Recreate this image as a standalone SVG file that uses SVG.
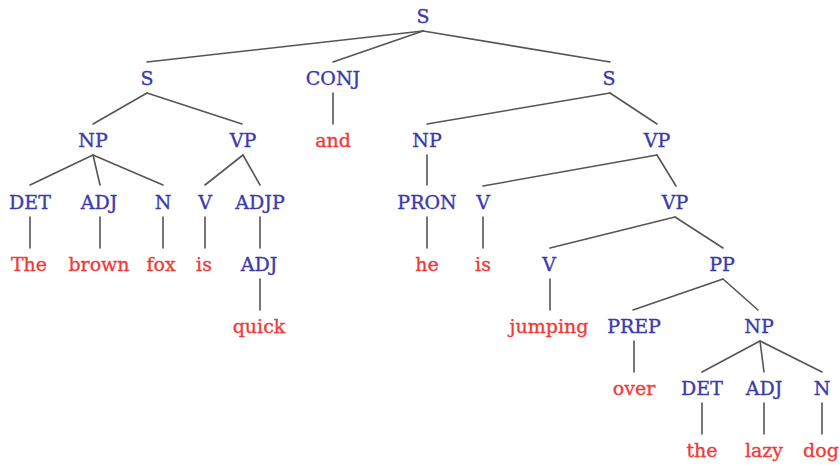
<svg xmlns="http://www.w3.org/2000/svg" width="840" height="465" viewBox="0 0 840 465">
<style>
text{font-family:'DejaVu Serif',serif;font-size:19px;text-anchor:middle;stroke-width:0.35}
.c{fill:#3a3aae;stroke:#3a3aae}
.w{fill:#f03a3a;stroke:#f03a3a}
#edges line{stroke:#555;stroke-width:1.6;stroke-linecap:round}
</style>
<rect width="840" height="465" fill="#fff"/>
<g id="edges">
<line x1="423" y1="31" x2="147" y2="62"/>
<line x1="423" y1="31" x2="333" y2="62"/>
<line x1="423" y1="31" x2="610" y2="62"/>
<line x1="147" y1="93" x2="93" y2="124"/>
<line x1="147" y1="93" x2="242" y2="124"/>
<line x1="333" y1="93" x2="333" y2="124"/>
<line x1="610" y1="93" x2="427" y2="124"/>
<line x1="610" y1="93" x2="657" y2="124"/>
<line x1="93" y1="155" x2="30" y2="185"/>
<line x1="93" y1="155" x2="100" y2="185"/>
<line x1="93" y1="155" x2="163" y2="185"/>
<line x1="243" y1="155" x2="205" y2="185"/>
<line x1="243" y1="155" x2="260" y2="185"/>
<line x1="427" y1="155" x2="427" y2="185"/>
<line x1="657" y1="155" x2="483" y2="186"/>
<line x1="657" y1="155" x2="676" y2="186"/>
<line x1="30" y1="217" x2="30" y2="248"/>
<line x1="100" y1="217" x2="100" y2="248"/>
<line x1="163" y1="217" x2="163" y2="248"/>
<line x1="205" y1="217" x2="205" y2="248"/>
<line x1="260" y1="217" x2="260" y2="248"/>
<line x1="427" y1="217" x2="427" y2="248"/>
<line x1="483" y1="217" x2="483" y2="248"/>
<line x1="675" y1="217" x2="550" y2="248"/>
<line x1="675" y1="217" x2="723" y2="248"/>
<line x1="260" y1="279" x2="260" y2="310"/>
<line x1="550" y1="279" x2="550" y2="310"/>
<line x1="723" y1="279" x2="633" y2="310"/>
<line x1="723" y1="279" x2="758" y2="310"/>
<line x1="634" y1="341" x2="634" y2="372"/>
<line x1="760" y1="341" x2="702" y2="372"/>
<line x1="760" y1="341" x2="764" y2="372"/>
<line x1="760" y1="341" x2="822" y2="372"/>
<line x1="702" y1="403" x2="702" y2="434"/>
<line x1="764" y1="403" x2="764" y2="434"/>
<line x1="822" y1="403" x2="822" y2="434"/>
</g>
<g id="n_S_root"><text class="c" x="423" y="23">S</text></g>
<g id="n_S1"><text class="c" x="147" y="85">S</text></g>
<g id="n_CONJ"><text class="c" x="333" y="85">CONJ</text></g>
<g id="n_S2"><text class="c" x="609" y="85">S</text></g>
<g id="n_NP1"><text class="c" x="93" y="147">NP</text></g>
<g id="n_VP1"><text class="c" x="243" y="147">VP</text></g>
<g id="n_and"><text class="w" x="333" y="147">and</text></g>
<g id="n_NP2"><text class="c" x="427" y="147">NP</text></g>
<g id="n_VP2"><text class="c" x="657" y="147">VP</text></g>
<g id="n_DET1"><text class="c" x="30" y="209">DET</text></g>
<g id="n_ADJ1"><text class="c" x="99" y="209">ADJ</text></g>
<g id="n_N1"><text class="c" x="163" y="209">N</text></g>
<g id="n_V1"><text class="c" x="205" y="209">V</text></g>
<g id="n_ADJP"><text class="c" x="260" y="209">ADJP</text></g>
<g id="n_PRON"><text class="c" x="427" y="209">PRON</text></g>
<g id="n_V2"><text class="c" x="483" y="209">V</text></g>
<g id="n_VP3"><text class="c" x="675" y="209">VP</text></g>
<g id="n_The"><text class="w" x="29" y="271">The</text></g>
<g id="n_brown"><text class="w" x="99" y="271">brown</text></g>
<g id="n_fox"><text class="w" x="161" y="271">fox</text></g>
<g id="n_is1"><text class="w" x="204" y="271">is</text></g>
<g id="n_ADJ2"><text class="c" x="259" y="271">ADJ</text></g>
<g id="n_he"><text class="w" x="427" y="271">he</text></g>
<g id="n_is2"><text class="w" x="483" y="271">is</text></g>
<g id="n_V3"><text class="c" x="549" y="271">V</text></g>
<g id="n_PP"><text class="c" x="722" y="271">PP</text></g>
<g id="n_quick"><text class="w" x="259" y="333">quick</text></g>
<g id="n_jumping"><text class="w" x="549" y="333">jumping</text></g>
<g id="n_PREP"><text class="c" x="634" y="333">PREP</text></g>
<g id="n_NP3"><text class="c" x="759" y="333">NP</text></g>
<g id="n_over"><text class="w" x="634" y="395">over</text></g>
<g id="n_DET2"><text class="c" x="702" y="395">DET</text></g>
<g id="n_ADJ3"><text class="c" x="764" y="395">ADJ</text></g>
<g id="n_N2"><text class="c" x="822" y="395">N</text></g>
<g id="n_the"><text class="w" x="702" y="457">the</text></g>
<g id="n_lazy"><text class="w" x="764" y="457">lazy</text></g>
<g id="n_dog"><text class="w" x="821" y="457">dog</text></g>
</svg>
